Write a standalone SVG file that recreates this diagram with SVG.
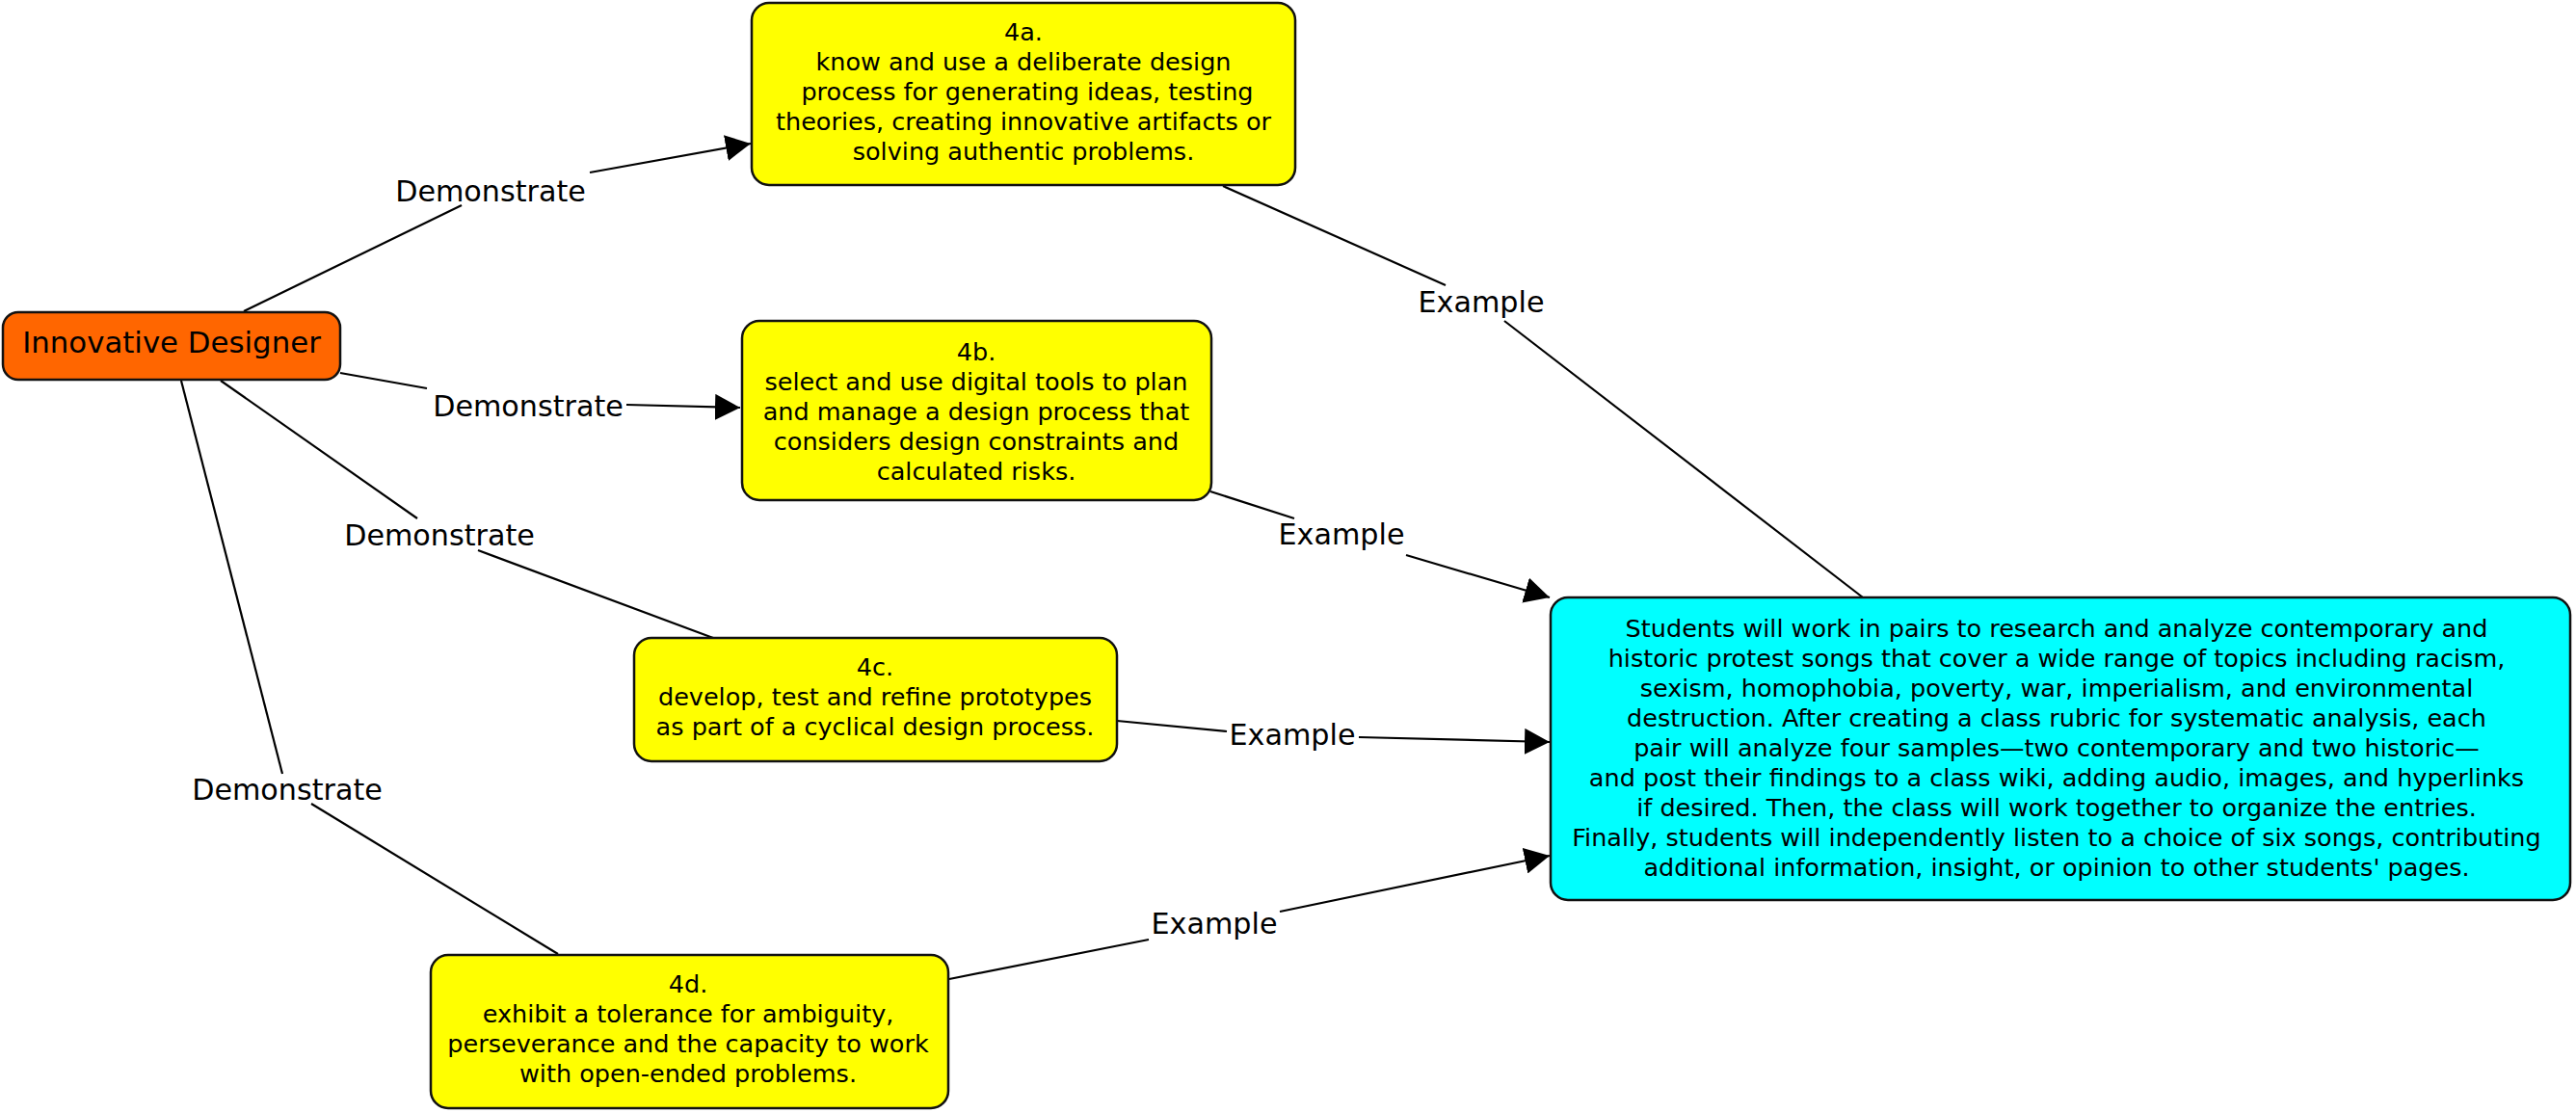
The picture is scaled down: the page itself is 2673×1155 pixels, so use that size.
<svg xmlns="http://www.w3.org/2000/svg" width="2673" height="1155" viewBox="0 0 2673 1155">
<style>
text{font-family:"DejaVu Sans",Verdana,"Liberation Sans",sans-serif;fill:#000;text-anchor:middle}
.big{font-size:30.8px}
.body{font-size:25.5px}
.lbl{font-size:30.2px}
.box{stroke:#111;stroke-width:2.5}
.c{stroke:#000;stroke-width:2.2;fill:none}
</style>
<defs>
<marker id="arr" markerUnits="userSpaceOnUse" viewBox="0 0 26 27" refX="26" refY="13.5" markerWidth="26" markerHeight="27" orient="auto">
<path d="M0,0 L26,13.5 L0,27 z" fill="#000"/>
</marker>
</defs>
<rect width="2673" height="1155" fill="#fff"/>
<g id="connectors">
<line class="c" x1="253" y1="323" x2="479" y2="213"/>
<line class="c" x1="612" y1="179" x2="779" y2="149" marker-end="url(#arr)"/>
<line class="c" x1="353" y1="387" x2="443" y2="403"/>
<line class="c" x1="650" y1="420" x2="768" y2="423" marker-end="url(#arr)"/>
<line class="c" x1="229" y1="395" x2="433" y2="538"/>
<line class="c" x1="496" y1="571" x2="740" y2="662"/>
<line class="c" x1="188" y1="395" x2="293" y2="803"/>
<line class="c" x1="323" y1="834" x2="579" y2="990"/>
<line class="c" x1="1269" y1="193" x2="1500" y2="296"/>
<line class="c" x1="1561" y1="333" x2="1933" y2="620"/>
<line class="c" x1="1256" y1="510" x2="1343" y2="538"/>
<line class="c" x1="1459" y1="576" x2="1608" y2="620" marker-end="url(#arr)"/>
<line class="c" x1="1159" y1="748" x2="1273" y2="759"/>
<line class="c" x1="1410" y1="765" x2="1608" y2="770" marker-end="url(#arr)"/>
<line class="c" x1="985" y1="1016" x2="1192" y2="975"/>
<line class="c" x1="1328" y1="946" x2="1608" y2="888" marker-end="url(#arr)"/>
<text class="lbl" x="509" y="209">Demonstrate</text>
<text class="lbl" x="548" y="432">Demonstrate</text>
<text class="lbl" x="456" y="566">Demonstrate</text>
<text class="lbl" x="298" y="830">Demonstrate</text>
<text class="lbl" x="1537" y="324">Example</text>
<text class="lbl" x="1392" y="565">Example</text>
<text class="lbl" x="1341" y="773">Example</text>
<text class="lbl" x="1260" y="969">Example</text>
</g>
<g id="node-innovative-designer">
<rect class="box" x="3" y="324" width="350" height="70" rx="16" fill="#FF6600"/>
<text class="big" x="178" y="366">Innovative Designer</text>
</g>
<g id="node-4a">
<rect class="box" x="780" y="3" width="564" height="189" rx="18" fill="#FFFF00"/>
<text class="body" x="1062" y="42">4a.</text>
<text class="body" x="1062" y="73">know and use a deliberate design</text>
<text class="body" x="1066" y="104">process for generating ideas, testing</text>
<text class="body" x="1062" y="135">theories, creating innovative artifacts or</text>
<text class="body" x="1062" y="166">solving authentic problems.</text>
</g>
<g id="node-4b">
<rect class="box" x="770" y="333" width="487" height="186" rx="18" fill="#FFFF00"/>
<text class="body" x="1013" y="374">4b.</text>
<text class="body" x="1013" y="405">select and use digital tools to plan</text>
<text class="body" x="1013" y="436">and manage a design process that</text>
<text class="body" x="1013" y="467">considers design constraints and</text>
<text class="body" x="1013" y="498">calculated risks.</text>
</g>
<g id="node-4c">
<rect class="box" x="658" y="662" width="501" height="128" rx="18" fill="#FFFF00"/>
<text class="body" x="908" y="701">4c.</text>
<text class="body" x="908" y="732">develop, test and refine prototypes</text>
<text class="body" x="908" y="763">as part of a cyclical design process.</text>
</g>
<g id="node-4d">
<rect class="box" x="447" y="991" width="537" height="159" rx="18" fill="#FFFF00"/>
<text class="body" x="714" y="1030">4d.</text>
<text class="body" x="714" y="1061">exhibit a tolerance for ambiguity,</text>
<text class="body" x="714" y="1092">perseverance and the capacity to work</text>
<text class="body" x="714" y="1123">with open-ended problems.</text>
</g>
<g id="node-activity">
<rect class="box" x="1609" y="620" width="1058" height="314" rx="18" fill="#00FFFF"/>
<text class="body" x="2134" y="661">Students will work in pairs to research and analyze contemporary and</text>
<text class="body" x="2134" y="692">historic protest songs that cover a wide range of topics including racism,</text>
<text class="body" x="2134" y="723">sexism, homophobia, poverty, war, imperialism, and environmental</text>
<text class="body" x="2134" y="754">destruction. After creating a class rubric for systematic analysis, each</text>
<text class="body" x="2134" y="785">pair will analyze four samples—two contemporary and two historic—</text>
<text class="body" x="2134" y="816">and post their findings to a class wiki, adding audio, images, and hyperlinks</text>
<text class="body" x="2134" y="847">if desired. Then, the class will work together to organize the entries.</text>
<text class="body" x="2134" y="878">Finally, students will independently listen to a choice of six songs, contributing</text>
<text class="body" x="2134" y="909">additional information, insight, or opinion to other students' pages.</text>
</g>
</svg>
